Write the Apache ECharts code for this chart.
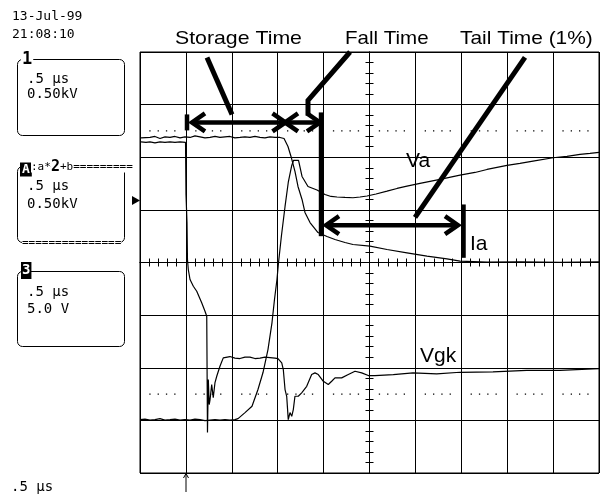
<!DOCTYPE html>
<html><head><meta charset="utf-8">
<script src="https://cdn.jsdelivr.net/npm/echarts@6/dist/echarts.min.js"></script>
<style>html,body{margin:0;padding:0;background:#fff}#c{width:600px;height:497px}</style>
</head><body><div id="c"></div>
<script>
// x: time in µs relative to screen centre (0.5 µs/div), y: divisions
const iaTrace = [
[-2.489,2.367],[-2.391,2.376],[-2.337,2.395],[-2.282,2.357],[-2.228,2.386],[-2.173,2.376],[-2.119,2.395],[-2.064,2.367],[-2.010,2.386],[-1.955,2.376],[-1.901,2.405],[-1.846,2.386],[-1.792,2.367],[-1.737,2.376],[-1.683,2.395],[-1.629,2.376],[-1.574,2.386],[-1.520,2.395],[-1.466,2.367],[-1.411,2.376],[-1.357,2.386],[-1.302,2.376],[-1.248,2.395],[-1.193,2.376],[-1.139,2.367],[-1.084,2.386],[-1.030,2.376],[-0.975,2.376],[-0.931,2.357],[-0.888,2.205],[-0.855,2.015],[-0.812,1.730],[-0.779,1.445],[-0.735,1.198],[-0.703,0.951],[-0.648,0.760],[-0.561,0.570],[-0.463,0.494],[-0.376,0.437],[-0.267,0.380],[-0.180,0.342],[0.005,0.310],[0.191,0.247],[0.408,0.184],[0.626,0.120],[0.844,0.070],[0.986,0.025],[1.280,0.006],[1.639,0.010],[2.075,0.004],[2.5,0.010]
];
const vaTrace = [
[-2.5,-2.985],[-2.446,-2.975],[-2.391,-2.994],[-2.337,-2.985],[-2.282,-2.966],[-2.228,-2.994],[-2.173,-2.985],[-2.119,-2.975],[-2.064,-2.994],[-2.010,-2.985],[-1.955,-2.994],[-1.901,-2.975],[-1.846,-2.985],[-1.792,-3.004],[-1.737,-2.994],[-1.683,-2.985],[-1.629,-2.994],[-1.574,-2.985],[-1.520,-2.994],[-1.466,-2.985],[-1.432,-2.966],[-1.356,-2.852],[-1.280,-2.732],[-1.215,-2.414],[-1.160,-2.091],[-1.106,-1.654],[-1.062,-1.141],[-1.035,-0.703],[-1.008,-0.323],[-0.991,0],[-0.959,0.513],[-0.920,1.065],[-0.885,1.521],[-0.847,1.844],[-0.828,1.939],[-0.773,1.939],[-0.735,1.635],[-0.670,1.445],[-0.572,1.378],[-0.485,1.293],[-0.419,1.255],[-0.354,1.245],[-0.267,1.236],[-0.180,1.230],[-0.103,1.245],[-0.027,1.264],[0.071,1.302],[0.191,1.356],[0.300,1.407],[0.408,1.451],[0.550,1.502],[0.768,1.578],[0.986,1.660],[1.149,1.711],[1.280,1.768],[1.498,1.844],[1.639,1.882],[1.781,1.926],[1.999,1.990],[2.151,2.015],[2.293,2.053],[2.402,2.072],[2.5,2.091]
];
const vgkTrace = [
[-2.489,2.291],[-2.435,2.281],[-2.391,2.291],[-2.337,2.272],[-2.282,2.291],[-2.228,2.281],[-2.173,2.291],[-2.119,2.281],[-2.064,2.291],[-2.004,2.281],[-1.999,1.293],[-1.988,0.760],[-1.983,0.057],[-1.974,-0.133],[-1.955,-0.323],[-1.919,-0.451],[-1.882,-0.546],[-1.828,-0.766],[-1.792,-0.926],[-1.773,-1.021],[-1.765,-3.232],[-1.756,-2.224],[-1.746,-2.700],[-1.737,-2.605],[-1.719,-2.319],[-1.702,-2.567],[-1.683,-2.281],[-1.664,-2.162],[-1.629,-1.971],[-1.593,-1.812],[-1.520,-1.787],[-1.466,-1.816],[-1.411,-1.825],[-1.357,-1.797],[-1.302,-1.797],[-1.248,-1.825],[-1.193,-1.816],[-1.139,-1.797],[-1.084,-1.806],[-1.030,-1.816],[-0.997,-1.825],[-0.956,-1.907],[-0.939,-2.034],[-0.920,-2.414],[-0.902,-2.542],[-0.885,-2.985],[-0.866,-2.852],[-0.847,-2.922],[-0.830,-2.795],[-0.812,-2.542],[-0.776,-2.542],[-0.739,-2.477],[-0.684,-2.352],[-0.630,-2.129],[-0.594,-2.097],[-0.558,-2.129],[-0.503,-2.257],[-0.449,-2.319],[-0.412,-2.257],[-0.376,-2.192],[-0.303,-2.192],[-0.231,-2.129],[-0.158,-2.067],[-0.085,-2.097],[-0.013,-2.148],[0.060,-2.148],[0.259,-2.129],[0.474,-2.097],[0.732,-2.116],[0.986,-2.086],[1.345,-2.078],[1.712,-2.048],[2.075,-2.048],[2.435,-2.021],[2.5,-2.015]
];
const upperRefLine = [[-2.5,2.5],[2.5,2.5]];
const lowerRefLine = [[-2.5,-2.5],[2.5,-2.5]];
// annotation geometry (data units)
const pointerPaths = [
  [[-1.770,3.897],[-1.498,2.814]],
  [[-0.212,4.0],[-0.670,3.080],[-0.670,2.795]],
  [[1.694,3.897],[0.496,0.856]]
];
const barPaths = [
  [[-1.988,2.510],[-1.988,2.814]],
  [[-0.528,0.500],[-0.528,2.852]],
  [[1.024,0.089],[1.024,1.103]]
];
const arrowPaths = [
  [[-1.923,2.662],[-0.926,2.662]],
  [[-0.910,2.662],[-0.550,2.662]],
  [[-0.463,0.709],[0.953,0.709]]
];
const annotationTitles = ['Storage Time','Fall Time','Tail Time (1%)'];
const traceNames = ['Va','Ia','Vgk'];

const BLACK = '#000';
const chart = echarts.init(document.getElementById('c'), null, {renderer:'canvas'});

function axisBase(min, max, interval) {
  return {
    type:'value', min, max, interval,
    axisLabel:{show:false},
    axisLine:{show:true, onZero:true, onZeroAxisIndex:0, lineStyle:{color:BLACK, width:1}},
    axisTick:{show:true, length:4, lineStyle:{color:BLACK, width:1}},
    minorTick:{show:true, splitNumber:5, length:4, lineStyle:{color:BLACK, width:1}},
    splitLine:{show:false}, minorSplitLine:{show:false}
  };
}
function pathSeries(paths, lineWidth, withHeads) {
  return {
    type:'custom', coordinateSystem:'cartesian2d', silent:true, clip:false, z:5,
    data: paths.map((p,i)=>[i]),
    renderItem: function(params, api) {
      const pts = paths[params.dataIndex].map(p => api.coord(p));
      const children = [{type:'polyline', shape:{points:pts}, style:{stroke:BLACK, lineWidth:lineWidth, fill:null, lineCap:'butt', lineJoin:'miter'}}];
      if (withHeads) {
        const L = 12, W = 9;
        [[pts[0], pts[1]], [pts[pts.length-1], pts[pts.length-2]]].forEach(([tip, prev]) => {
          const dx = tip[0]-prev[0], dy = tip[1]-prev[1];
          const len = Math.hypot(dx, dy), ux = dx/len, uy = dy/len, nx = -uy, ny = ux;
          children.push({type:'polyline', shape:{points:[[tip[0]-ux*L+nx*W, tip[1]-uy*L+ny*W],[tip[0]+ux*1, tip[1]+uy*1],[tip[0]-ux*L-nx*W, tip[1]-uy*L-ny*W]]},
            style:{stroke:BLACK, lineWidth:4.5, fill:null, lineJoin:'miter'}});
        });
      }
      return {type:'group', children};
    }
  };
}
function traceSeries(name, data) {
  return {name, type:'line', data, showSymbol:false, symbol:'none', silent:true, z:3,
    lineStyle:{color:BLACK, width:1.2}, emphasis:{disabled:true}};
}
function refSeries(data) {
  return {type:'line', data, showSymbol:false, symbol:'none', silent:true, z:2,
    lineStyle:{color:BLACK, width:1.3, type:[1.3,7,1.3,7,1.3,7,1.3,19.7], dashOffset:36.6}};
}
const mono = '"DejaVu Sans Mono", monospace';
const sans = '"Liberation Sans", Arial, sans-serif';
function txt(text, x, y, font, extra) {
  return {type:'text', x, y, z:10, style:Object.assign({text, font, fill:BLACK, align:'left', verticalAlign:'middle'}, extra||{})};
}
const graphics = [
  txt('13-Jul-99', 12, 17, '13px '+mono),
  txt('21:08:10', 12, 35, '13px '+mono),
  {type:'rect', shape:{x:17.5, y:59.5, width:107, height:76, r:5}, style:{fill:'#fff', stroke:BLACK, lineWidth:1}, z:9},
  txt('1', 21, 60, 'bold 17px '+mono, {backgroundColor:'#fff', padding:[0,1]}),
  txt('.5 µs', 27, 79, '14px '+mono),
  txt('0.50kV', 27, 94, '14px '+mono),
  {type:'rect', shape:{x:17.5, y:166.5, width:107, height:76, r:5}, style:{fill:'#fff', stroke:BLACK, lineWidth:1}, z:9},
  txt('A', 20, 169.5, 'bold 13px '+mono, {fill:'#fff', backgroundColor:BLACK, padding:[1,2,0,2]}),
  txt(':a*', 31, 167, '11px '+mono, {backgroundColor:'#fff'}),
  txt('2', 51, 167, 'bold 15px '+mono, {backgroundColor:'#fff'}),
  txt('+b=========', 60, 167, '11px '+mono, {backgroundColor:'#fff'}),
  txt('.5 µs', 27, 186, '14px '+mono),
  txt('0.50kV', 27, 204, '14px '+mono),
  txt('===============', 22, 243, '11px '+mono, {backgroundColor:'#fff'}),
  {type:'rect', shape:{x:17.5, y:271.5, width:107, height:75, r:5}, style:{fill:'#fff', stroke:BLACK, lineWidth:1}, z:9},
  txt('3', 21, 270.5, 'bold 14px '+mono, {fill:'#fff', backgroundColor:BLACK, padding:[2,1,1,1]}),
  txt('.5 µs', 27, 292, '14px '+mono),
  txt('5.0 V', 27, 309, '14px '+mono),
  txt('.5 µs', 11, 487, '14px '+mono),
  {type:'polygon', shape:{points:[[132,196],[140,200.5],[132,205]]}, style:{fill:BLACK}, z:10},
  {type:'polyline', shape:{points:[[183.5,478],[186,473.5],[188.5,478]]}, style:{stroke:BLACK, lineWidth:1, fill:null}, z:10},
  {type:'line', shape:{x1:186, y1:474, x2:186, y2:492}, style:{stroke:BLACK, lineWidth:1}, z:10},
  Object.assign(txt(annotationTitles[0], 175, 39, '19px '+sans), {scaleX:1.12}),
  Object.assign(txt(annotationTitles[1], 345, 39, '19px '+sans), {scaleX:1.08}),
  Object.assign(txt(annotationTitles[2], 460, 39, '19px '+sans), {scaleX:1.1}),
  txt(traceNames[0], 406, 161, '21px '+sans),
  txt(traceNames[1], 470, 244, '21px '+sans),
  txt(traceNames[2], 420, 356, '21px '+sans)
];

chart.setOption({
  animation:false,
  backgroundColor:'#fff',
  grid:{left:140, top:52, width:459, height:421, show:true, borderColor:BLACK, borderWidth:1, backgroundColor:'transparent'},
  xAxis:[
    Object.assign(axisBase(-2.5, 2.5, 0.5), {position:'bottom', splitLine:{show:true, lineStyle:{color:BLACK, width:1}}}),
    Object.assign(axisBase(-2.5, 2.5, 0.5), {position:'top'})
  ],
  yAxis:[
    Object.assign(axisBase(-4, 4, 1), {position:'left', splitLine:{show:true, lineStyle:{color:BLACK, width:1}}}),
    Object.assign(axisBase(-4, 4, 1), {position:'right'})
  ],
  graphic: graphics,
  series:[
    refSeries(upperRefLine),
    refSeries(lowerRefLine),
    traceSeries('Va', vaTrace),
    traceSeries('Ia', iaTrace),
    traceSeries('Vgk', vgkTrace),
    pathSeries(pointerPaths, 5, false),
    pathSeries(barPaths, 4.5, false),
    pathSeries(arrowPaths, 4.5, true)
  ]
});
</script></body></html>
